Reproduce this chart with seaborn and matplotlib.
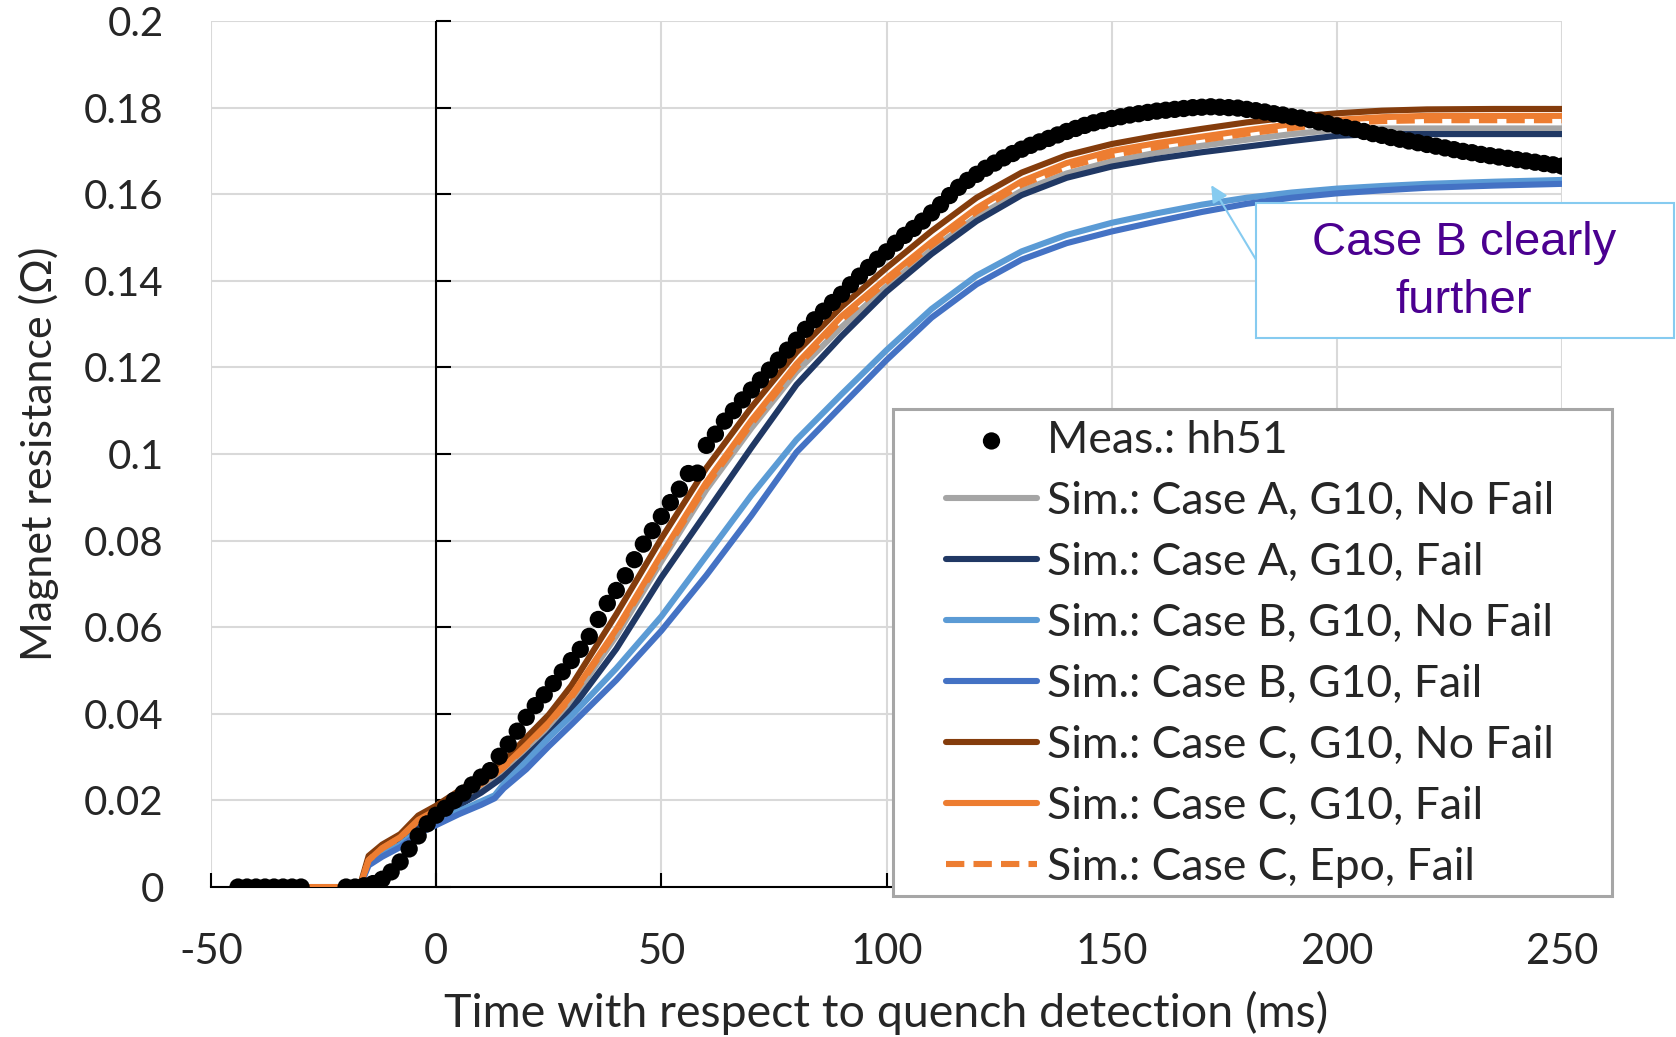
import numpy as np
import pandas as pd
import seaborn as sns
import matplotlib.pyplot as plt
from matplotlib.patches import Rectangle

# medição (pontos a cada 2 ms)
meas_t = [-44, -42, -40, -38, -36, -34, -32, -30,
          -20, -18, -16, -14, -12, -10, -8, -6, -4, -2,
          0, 2, 4, 6, 8, 10, 12, 14, 16, 18,
          20, 22, 24, 26, 28, 30, 32, 34, 36, 38,
          40, 42, 44, 46, 48, 50, 52, 54, 56, 58,
          60, 62, 64, 66, 68, 70, 72, 74, 76, 78,
          80, 82, 84, 86, 88, 90, 92, 94, 96, 98,
          100, 102, 104, 106, 108, 110, 112, 114, 116, 118,
          120, 122, 124, 126, 128, 130, 132, 134, 136, 138,
          140, 142, 144, 146, 148, 150, 152, 154, 156, 158,
          160, 162, 164, 166, 168, 170, 172, 174, 176, 178,
          180, 182, 184, 186, 188, 190, 192, 194, 196, 198,
          200, 202, 204, 206, 208, 210, 212, 214, 216, 218,
          220, 222, 224, 226, 228, 230, 232, 234, 236, 238,
          240, 242, 244, 246, 248, 250]
meas_r = [0, 0, 0, 0, 0, 0, 0, 0,
          0, 0, 0.0003, 0.0008, 0.0018, 0.0035, 0.0058, 0.0088, 0.0118, 0.0146,
          0.0166, 0.0182, 0.0200, 0.0217, 0.0236, 0.0254, 0.0269, 0.0302, 0.0330, 0.0360,
          0.0392, 0.0419, 0.0444, 0.0470, 0.0497, 0.0523, 0.0549, 0.0579, 0.0618, 0.0655,
          0.0685, 0.0719, 0.0756, 0.0792, 0.0823, 0.0856, 0.0888, 0.0919, 0.0955, 0.0956,
          0.1020, 0.1046, 0.1076, 0.1100, 0.1125, 0.1148, 0.1171, 0.1194, 0.1217, 0.1240,
          0.1263, 0.1288, 0.1310, 0.1330, 0.1350, 0.1369, 0.1391, 0.1411, 0.1431, 0.1450,
          0.1467, 0.1487, 0.1505, 0.1521, 0.1538, 0.1557, 0.1576, 0.1597, 0.1616, 0.1632,
          0.1646, 0.1660, 0.1672, 0.1684, 0.1694, 0.1704, 0.1713, 0.1721, 0.1729, 0.1737,
          0.1745, 0.1752, 0.1759, 0.1765, 0.1770, 0.1775, 0.1779, 0.1783, 0.1786, 0.1789,
          0.1792, 0.1794, 0.1796, 0.1798, 0.1800, 0.1801, 0.1802, 0.1801, 0.1800, 0.1799,
          0.1796, 0.1793, 0.1790, 0.1786, 0.1783, 0.1779, 0.1776, 0.1772, 0.1767, 0.1763,
          0.1758, 0.1754, 0.1750, 0.1745, 0.1740, 0.1736, 0.1731, 0.1727, 0.1723, 0.1719,
          0.1715, 0.1711, 0.1707, 0.1703, 0.1699, 0.1696, 0.1692, 0.1689, 0.1686, 0.1683,
          0.1680, 0.1677, 0.1674, 0.1671, 0.1668, 0.1665]

# simulações
sim_t = [-44, -17, -15, -12, -8, -4, 0, 5, 10, 13, 15, 20, 25, 30, 40, 50, 60, 70,
         80, 90, 100, 110, 120, 130, 140, 150, 160, 170, 180, 190, 200, 210, 220,
         235, 250]
caseA_g10_nofail = [0, 0, 0.0060, 0.0085, 0.0108, 0.0145, 0.0165, 0.0198, 0.0228, 0.0250,
                    0.0266, 0.0315, 0.0368, 0.0430, 0.0580, 0.0752, 0.0918, 0.1060, 0.1190,
                    0.1293, 0.1387, 0.1472, 0.1548, 0.1608, 0.1648, 0.1676, 0.1696, 0.1712,
                    0.1726, 0.1739, 0.1749, 0.1752, 0.1752, 0.1752, 0.1752]
caseA_g10_fail = [0, 0, 0.0058, 0.0082, 0.0104, 0.0138, 0.0155, 0.0188, 0.0218, 0.0240,
                  0.0255, 0.0302, 0.0352, 0.0410, 0.0550, 0.0715, 0.0865, 0.1015, 0.1160,
                  0.1272, 0.1375, 0.1462, 0.1538, 0.1598, 0.1638, 0.1664, 0.1682, 0.1697,
                  0.1710, 0.1723, 0.1735, 0.1739, 0.1739, 0.1739, 0.1739]
caseB_g10_nofail = [0, 0, 0.0055, 0.0075, 0.0098, 0.0130, 0.0150, 0.0175, 0.0198, 0.0212,
                    0.0238, 0.0290, 0.0345, 0.0395, 0.0505, 0.0625, 0.0765, 0.0905, 0.1033,
                    0.1138, 0.1240, 0.1335, 0.1412, 0.1468, 0.1506, 0.1534, 0.1556, 0.1576,
                    0.1592, 0.1604, 0.1613, 0.1619, 0.1624, 0.1629, 0.1633]
caseB_g10_fail = [0, 0, 0.0050, 0.0070, 0.0092, 0.0123, 0.0143, 0.0168, 0.0190, 0.0205,
                  0.0228, 0.0272, 0.0325, 0.0375, 0.0478, 0.0592, 0.0720, 0.0858, 0.1004,
                  0.1111, 0.1217, 0.1315, 0.1392, 0.1449, 0.1487, 0.1514, 0.1537, 0.1559,
                  0.1578, 0.1592, 0.1602, 0.1609, 0.1615, 0.1620, 0.1624]
caseC_g10_nofail = [0, 0, 0.0072, 0.0098, 0.0122, 0.0165, 0.0188, 0.0222, 0.0255, 0.0275,
                    0.0290, 0.0345, 0.0398, 0.0465, 0.0630, 0.0805, 0.0968, 0.1108, 0.1235,
                    0.1340, 0.1430, 0.1515, 0.1592, 0.1650, 0.1690, 0.1716, 0.1735, 0.1751,
                    0.1766, 0.1778, 0.1787, 0.1793, 0.1796, 0.1797, 0.1797]
caseC_g10_fail = [0, 0, 0.0062, 0.0090, 0.0115, 0.0155, 0.0178, 0.0210, 0.0240, 0.0262,
                  0.0278, 0.0328, 0.0380, 0.0442, 0.0595, 0.0768, 0.0935, 0.1078, 0.1208,
                  0.1318, 0.1406, 0.1490, 0.1568, 0.1630, 0.1672, 0.1700, 0.1718, 0.1733,
                  0.1748, 0.1762, 0.1772, 0.1778, 0.1781, 0.1781, 0.1781]
caseC_epo_fail = [0, 0, 0.0062, 0.0089, 0.0114, 0.0153, 0.0176, 0.0208, 0.0238, 0.0260,
                  0.0276, 0.0325, 0.0377, 0.0438, 0.0590, 0.0762, 0.0928, 0.1070, 0.1200,
                  0.1310, 0.1398, 0.1482, 0.1560, 0.1622, 0.1663, 0.1690, 0.1709, 0.1725,
                  0.1740, 0.1753, 0.1764, 0.1769, 0.1771, 0.1771, 0.1771]

x_ticks = [-50, 0, 50, 100, 150, 200, 250]
y_ticks = [0, 0.02, 0.04, 0.06, 0.08, 0.1, 0.12, 0.14, 0.16, 0.18, 0.2]

sns.set_theme(style='white')
plt.rcParams['font.family'] = ['Lato', 'DejaVu Sans']
plt.rcParams['axes.unicode_minus'] = False

fig, ax = plt.subplots(figsize=(16.76, 10.37), dpi=100)
fig.subplots_adjust(left=0.1259, right=0.9320, top=0.9797, bottom=0.1446)

# linhas das simulações
series = [
    ('Sim.: Case A, G10, No Fail', caseA_g10_nofail, '#A5A5A5', '-'),
    ('Sim.: Case A, G10, Fail', caseA_g10_fail, '#203864', '-'),
    ('Sim.: Case B, G10, No Fail', caseB_g10_nofail, '#5B9BD5', '-'),
    ('Sim.: Case B, G10, Fail', caseB_g10_fail, '#4472C4', '-'),
    ('Sim.: Case C, G10, No Fail', caseC_g10_nofail, '#843C0C', '-'),
    ('Sim.: Case C, G10, Fail', caseC_g10_fail, '#ED7D31', '-'),
    ('Sim.: Case C, Epo, Fail', caseC_epo_fail, '#ED7D31', (0, (3, 1.5))),
]
for nome, valores, cor, estilo in series:
    sns.lineplot(x=sim_t, y=valores, color=cor, linewidth=4.4, linestyle=estilo,
                 label=nome, ax=ax, zorder=3, solid_joinstyle='round',
                 solid_capstyle='round')

# pontos medidos
sns.scatterplot(x=meas_t, y=meas_r, color='black', s=155, edgecolor='none',
                linewidth=0, label='Meas.: hh51', ax=ax, zorder=4)

ax.set_xlim(-50, 250)
ax.set_ylim(0, 0.2)
ax.set_xticks(x_ticks)
ax.set_xticklabels([f'{v:g}' for v in x_ticks])
ax.set_yticks(y_ticks)
ax.set_yticklabels([f'{v:g}' for v in y_ticks])
ax.grid(True, color='#D9D9D9', linewidth=1.5)
ax.set_axisbelow(True)

for lado in ['top', 'right', 'left']:
    ax.spines[lado].set_visible(False)
ax.spines['bottom'].set_color('black')
ax.spines['bottom'].set_linewidth(1.5)

ax.tick_params(axis='x', direction='in', length=10, width=1.5, color='black',
               pad=33, labelsize=30, bottom=True)
ax.tick_params(axis='y', length=0, pad=34, labelsize=29)

# eixo vertical em t = 0
ax.axvline(0, color='black', linewidth=1.5, zorder=2.6)
ax.plot([0] * len(y_ticks), y_ticks, linestyle='none', marker=1, markersize=11,
        markeredgewidth=1.5, color='black', clip_on=False, zorder=2.6)

ax.set_xlabel('Time with respect to quench detection (ms)', fontsize=33.5, va='center')
ax.xaxis.set_label_coords(0.5, -0.1455)
ax.set_ylabel('Magnet resistance (Ω)', fontsize=31, va='center')
ax.yaxis.set_label_coords(-0.1273, 0.5)

# legenda
handles, labels = ax.get_legend_handles_labels()
i = labels.index('Meas.: hh51')
handles = [handles[i]] + handles[:i] + handles[i + 1:]
labels = [labels[i]] + labels[:i] + labels[i + 1:]
ax.add_patch(Rectangle((0.5328, 0.1360), 0.4290, 0.4696, transform=fig.transFigure,
                       facecolor='white', edgecolor='#A6A6A6', linewidth=2.2,
                       zorder=10, clip_on=False))
leg = ax.legend(handles, labels, loc='center left', bbox_to_anchor=(0.5644, 0.3697),
                bbox_transform=fig.transFigure, frameon=False, fontsize=32,
                handlelength=2.05, handletextpad=0.23, labelspacing=0.45,
                borderpad=0, borderaxespad=0, markerscale=1.0)
leg.set_zorder(11)

# anotação
ax.annotate('', xy=(172.1, 0.1621), xytext=(182.1, 0.1448),
            arrowprops=dict(arrowstyle='-|>', color='#86CBF0', lw=1.5,
                            mutation_scale=25, shrinkA=0, shrinkB=0),
            zorder=9)
ax.add_patch(Rectangle((0.7494, 0.6741), 0.2494, 0.1302, transform=fig.transFigure,
                       facecolor='white', edgecolor='#86CBF0', linewidth=1.5,
                       zorder=10, clip_on=False))
fig.text(0.8735, 0.7377, 'Case B clearly\nfurther', ha='center', va='center',
         fontsize=34, color='#4B0090', family=['Liberation Sans', 'DejaVu Sans'],
         linespacing=1.4, zorder=11)

fig.savefig('out.png', dpi=100)
